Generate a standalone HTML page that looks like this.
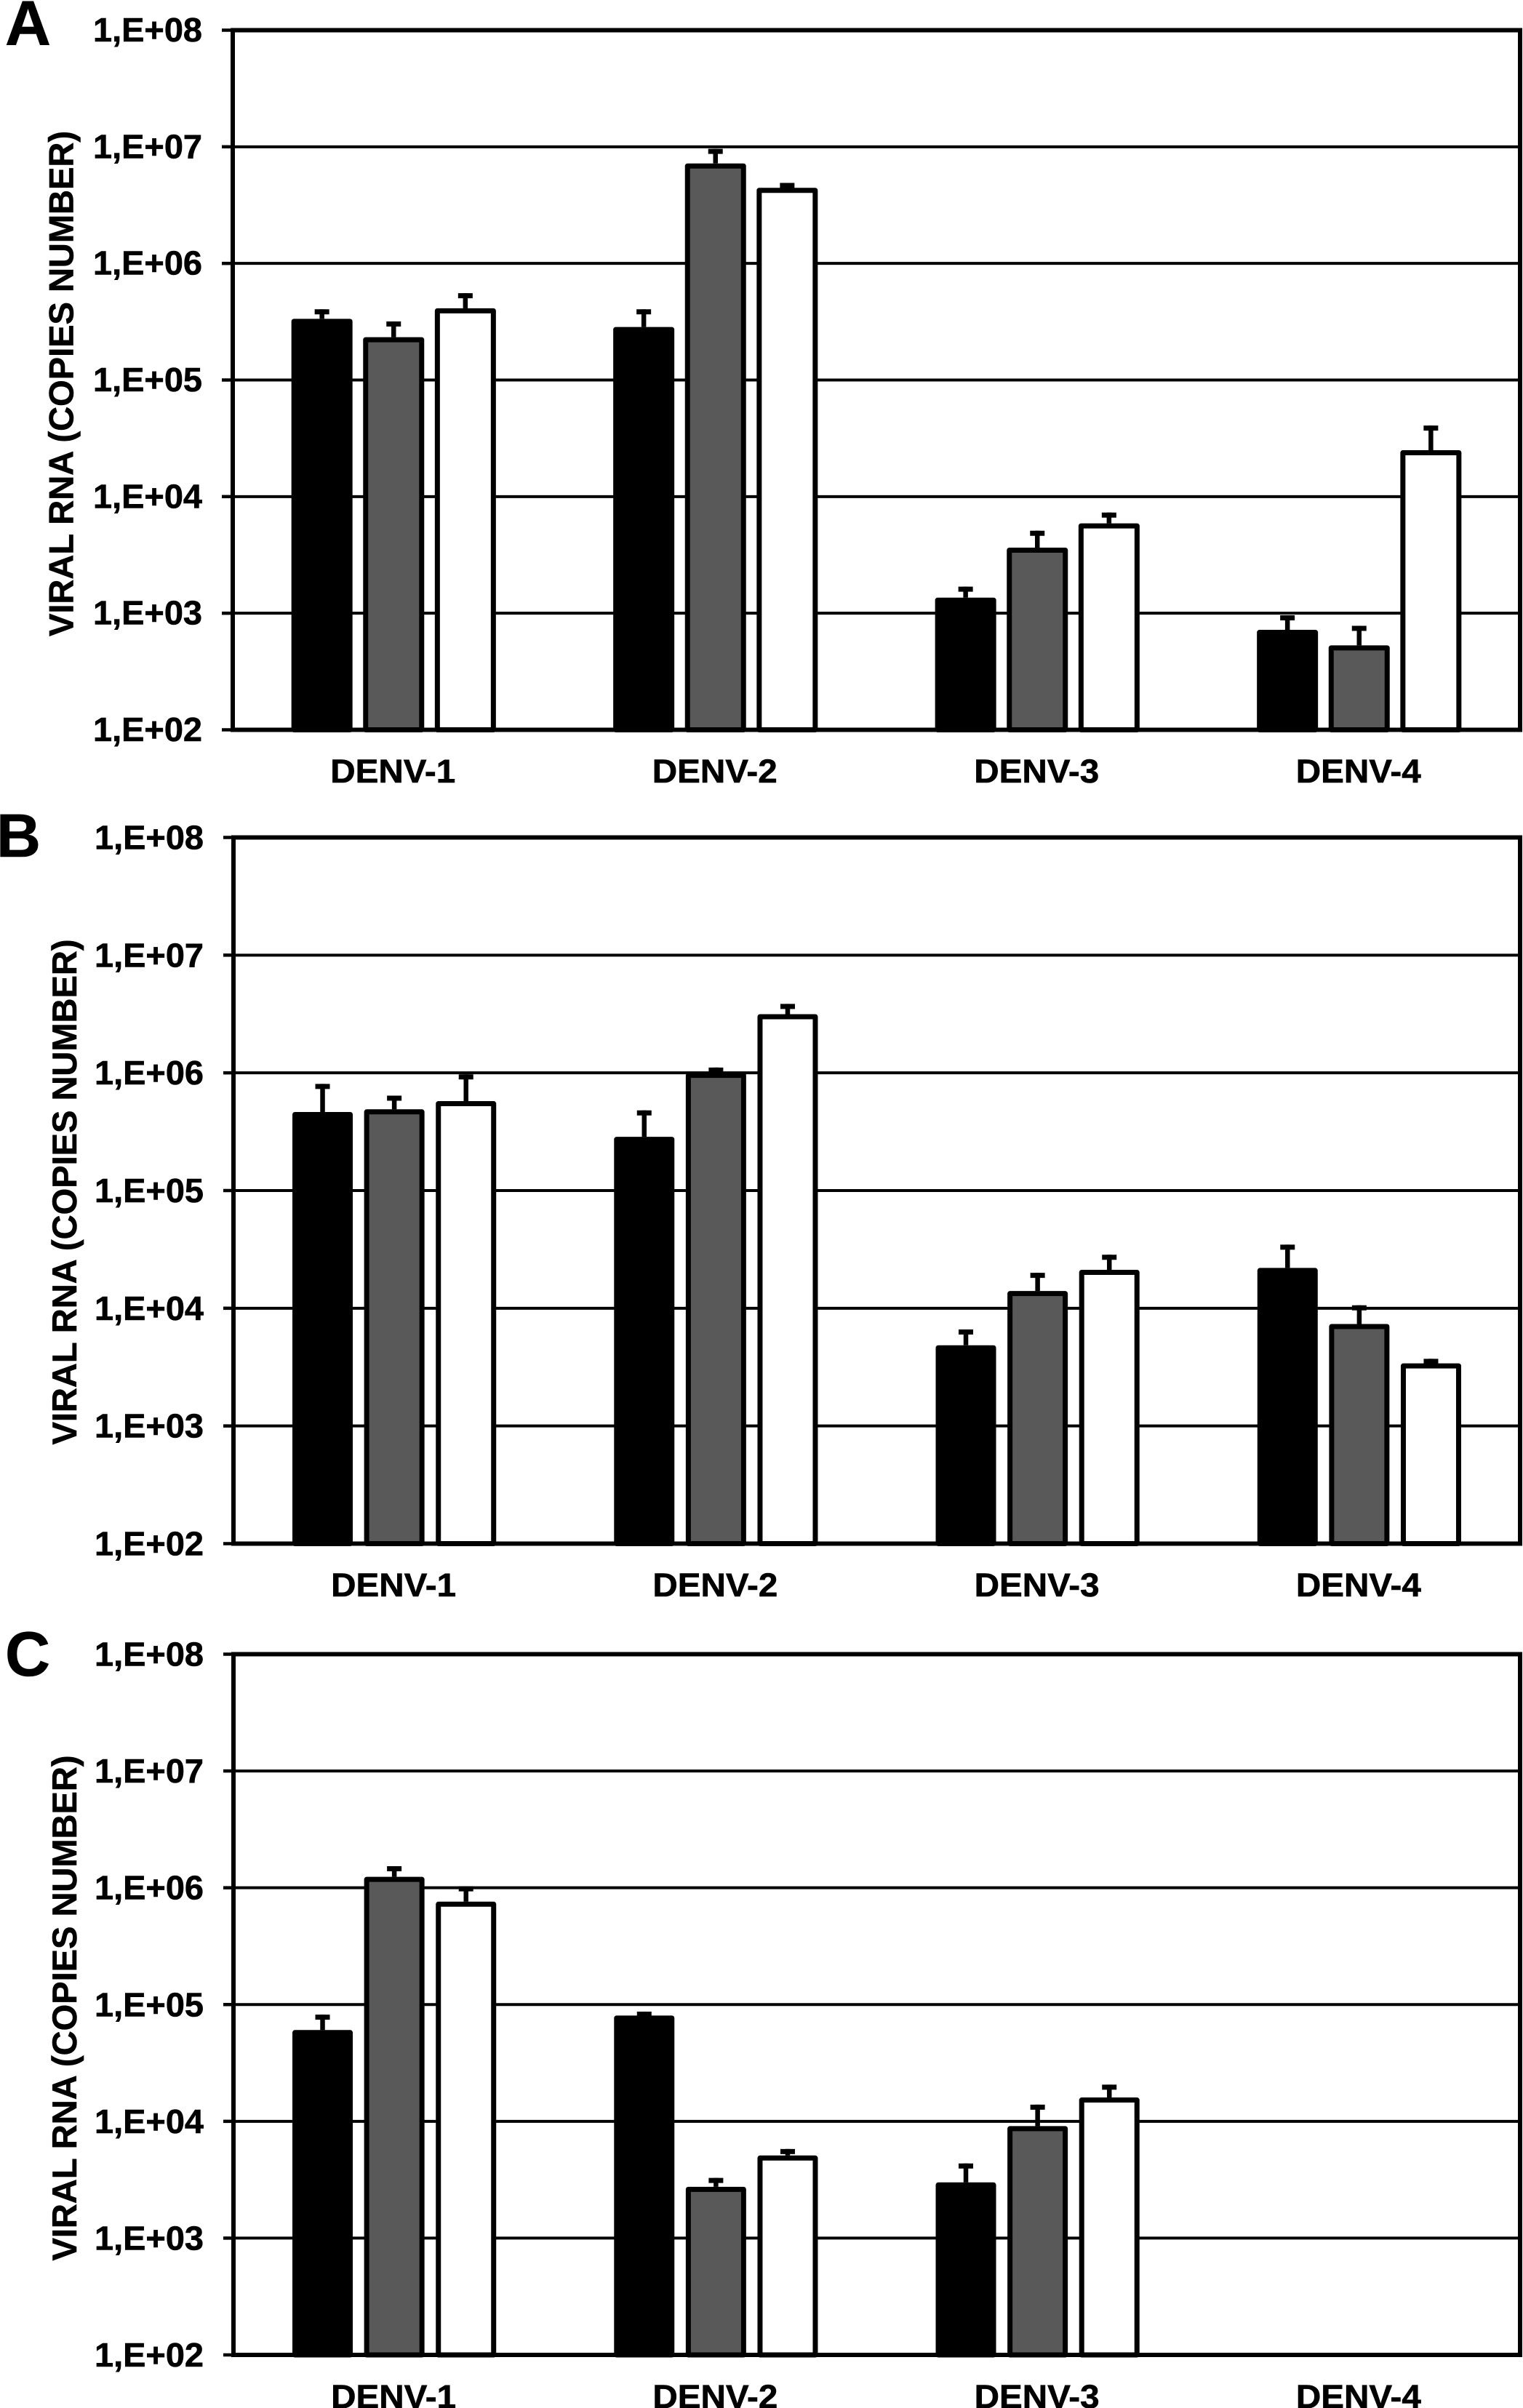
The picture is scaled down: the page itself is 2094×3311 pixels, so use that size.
<!DOCTYPE html>
<html lang="en">
<head>
<meta charset="utf-8">
<title>Viral RNA copies by dengue serotype</title>
<style>
html,body{margin:0;padding:0;background:#fff;width:2094px;height:3311px;overflow:hidden}
svg{display:block}
text{font-family:"Liberation Sans",Arial,sans-serif;font-weight:700;fill:#000;stroke:#000;stroke-width:0.6}
</style>
</head>
<body>
<svg id="figure" xmlns="http://www.w3.org/2000/svg" width="2094" height="3311" viewBox="0 0 2094 3311"></svg>
<script>
const categories = ['DENV-1', 'DENV-2', 'DENV-3', 'DENV-4'];
const tickLabels = ['1,E+02', '1,E+03', '1,E+04', '1,E+05', '1,E+06', '1,E+07', '1,E+08'];
const seriesNames = ['black', 'grey', 'white'];

const aBlack = [3.35e5, 2.85e5, 1.36e3, 7.2e2];
const aBlackErr = [4.04e5, 4.04e5, 1.69e3, 9.6e2];
const aGrey = [2.33e5, 7.2e6, 3.65e3, 5.3e2];
const aGreyErr = [3.18e5, 9.6e6, 5.1e3, 7.8e2];
const aWhite = [4.12e5, 4.45e6, 5.9e3, 2.5e4];
const aWhiteErr = [5.55e5, 4.9e6, 7.3e3, 4.07e4];

const bBlack = [4.65e5, 2.86e5, 4.85e3, 2.2e4];
const bBlackErr = [8.05e5, 4.8e5, 6.6e3, 3.47e4];
const bGrey = [4.9e5, 1.0e6, 1.4e4, 7.35e3];
const bGreyErr = [6.4e5, 1.11e6, 2.0e4, 1.06e4];
const bWhite = [5.75e5, 3.15e6, 2.12e4, 3.4e3];
const bWhiteErr = [9.7e5, 3.85e6, 2.85e4, 3.72e3];

const cBlack = [6.05e4, 8.05e4, 3.0e3, null];
const cBlackErr = [8.2e4, 8.7e4, 4.36e3, null];
const cGrey = [1.24e6, 2.75e3, 9.1e3, null];
const cGreyErr = [1.53e6, 3.28e3, 1.39e4, null];
const cWhite = [7.6e5, 5.1e3, 1.6e4, null];
const cWhiteErr = [1.03e6, 5.8e3, 2.06e4, null];

const NS = 'http://www.w3.org/2000/svg';
const figure = document.getElementById('figure');

function make(parent, tag, attrs, content) {
  const node = document.createElementNS(NS, tag);
  for (const key in attrs) node.setAttribute(key, attrs[key]);
  if (content !== undefined) node.textContent = content;
  parent.appendChild(node);
  return node;
}

function drawPanel(p) {
  const group = make(figure, 'g', {});
  
  

  const logMin = 2, logMax = 8;
  const yAxis = v => p.bottom - (Math.log10(v) - logMin) / (logMax - logMin) * (p.bottom - p.top);
  const bandW = (p.right - p.left) / categories.length;
  const barW = p.barW, barStep = 98.6;
  const xAxis = (c, s) => p.left + (c + 0.5) * bandW + (s - 1) * barStep;

  const letter = make(group, 'text', {x: p.letterX, y: p.letterY, 'font-size': p.letterSize, textLength: p.letterW, lengthAdjust: 'spacingAndGlyphs'}, p.id);
  
  

  const title = make(group, 'text', {transform: 'translate(' + p.titleX + ',' + p.titleY + ') rotate(-90)', 'text-anchor': 'middle', 'font-size': 47, textLength: 695, lengthAdjust: 'spacingAndGlyphs'}, 'VIRAL RNA (COPIES NUMBER)');
  
  

  tickLabels.forEach((label, i) => {
    const value = Math.pow(10, logMin + i);
    const y = yAxis(value);
    if (i > 0 && i < tickLabels.length - 1) {
      const grid = make(group, 'line', {x1: p.left, x2: p.right, y1: y, y2: y, stroke: '#000', 'stroke-width': 4});
      
      
    }
    const tick = make(group, 'line', {x1: p.tickX, x2: p.left, y1: y, y2: y, stroke: '#000', 'stroke-width': 4.5});
    
    
    const text = make(group, 'text', {x: p.labelX, y: y + p.labelDy, 'font-size': 46, textLength: 150, lengthAdjust: 'spacingAndGlyphs'}, label);
    
    
  });

  const styles = [
    {fill: '#000', stroke: '#000', sw: 7},
    {fill: '#595959', stroke: '#000', sw: 7},
    {fill: '#fff', stroke: '#000', sw: 7}
  ];

  p.series.forEach((values, s) => {
    const st = styles[s];
    values.forEach((value, c) => {
      if (value === null) return;
      const x = xAxis(c, s);
      const y = yAxis(value);
      const errY = yAxis(p.errors[s][c]);
      const stem = make(group, 'line', {x1: x, x2: x, y1: errY, y2: y, stroke: '#000', 'stroke-width': 6.5});
      
      
      const cap = make(group, 'line', {x1: x - 10, x2: x + 10, y1: errY + 3.5, y2: errY + 3.5, stroke: '#000', 'stroke-width': 7});
      
      
      const bar = make(group, 'rect', {x: x - barW / 2 + st.sw / 2, y: y + st.sw / 2, width: barW - st.sw, height: p.bottom - y - st.sw / 2, fill: st.fill, stroke: st.stroke, 'stroke-width': st.sw, 'stroke-linejoin': 'round'});
      
      
    });
  });

  const frame = make(group, 'rect', {x: p.left, y: p.top, width: p.right - p.left, height: p.bottom - p.top, fill: 'none', stroke: '#000', 'stroke-width': 6});
  
  

  categories.forEach((name, c) => {
    const label = make(group, 'text', {x: p.left + (c + 0.5) * bandW - 1, y: p.catY, 'text-anchor': 'middle', 'font-size': 45, textLength: 172, lengthAdjust: 'spacingAndGlyphs'}, name);
    
    
  });
}

drawPanel({id: 'A', left: 320, right: 2090, top: 41.5, bottom: 1003.5, barW: 84, tickX: 305, labelX: 128, labelDy: 15.5, titleX: 100.5, titleY: 527.5, catY: 1076, letterX: 7, letterY: 62, letterSize: 87, letterW: 63,
  series: [aBlack, aGrey, aWhite], errors: [aBlackErr, aGreyErr, aWhiteErr]});
drawPanel({id: 'B', left: 321, right: 2090, top: 1151.5, bottom: 2122.5, barW: 83, tickX: 307, labelX: 130, labelDy: 16, titleX: 105, titleY: 1639, catY: 2195, letterX: -5, letterY: 1178, letterSize: 84, letterW: 61,
  series: [bBlack, bGrey, bWhite], errors: [bBlackErr, bGreyErr, bWhiteErr]});
drawPanel({id: 'C', left: 321, right: 2090, top: 2274.5, bottom: 3238, barW: 83, tickX: 307, labelX: 130, labelDy: 16, titleX: 105, titleY: 2761, catY: 3311, letterX: 7, letterY: 2304, letterSize: 86, letterW: 62,
  series: [cBlack, cGrey, cWhite], errors: [cBlackErr, cGreyErr, cWhiteErr]});
</script>
</body>
</html>
